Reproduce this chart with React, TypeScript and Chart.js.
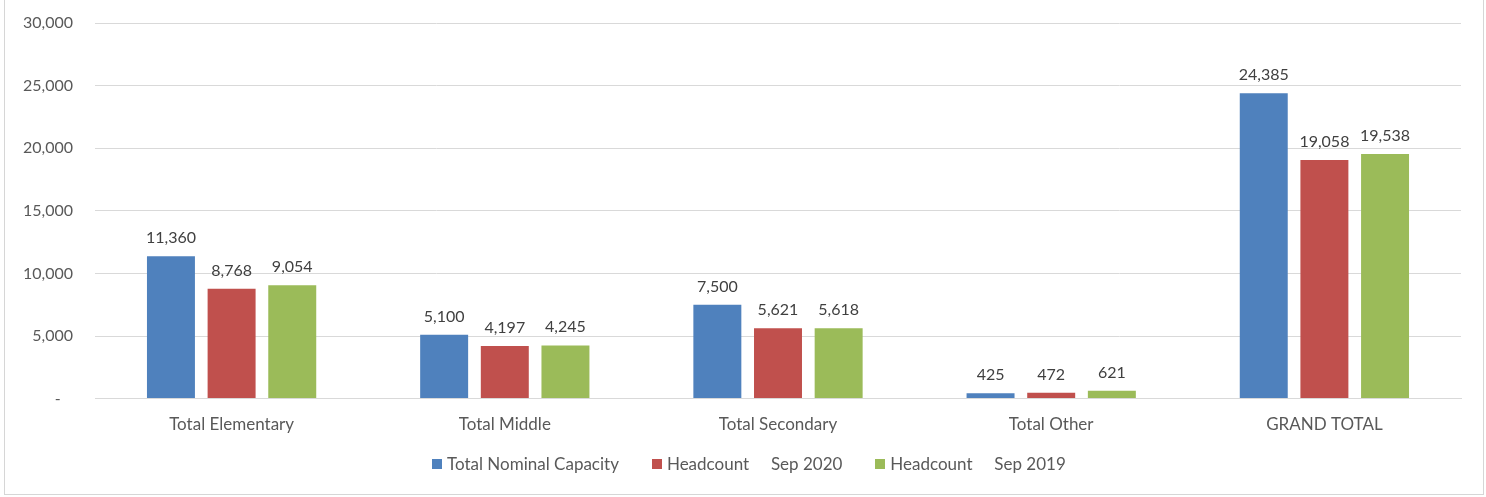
import React, { useEffect, useRef } from "react";
import { Chart, registerables } from "chart.js";

Chart.register(...registerables);

const categories = ["Total Elementary", "Total Middle", "Total Secondary", "Total Other", "GRAND TOTAL"];
const seriesNames = ["Total Nominal Capacity", "Headcount     Sep 2020", "Headcount     Sep 2019"];
const nominalCapacity = [11360, 5100, 7500, 425, 24385];
const headcount2020 = [8768, 4197, 5621, 472, 19058];
const headcount2019 = [9054, 4245, 5618, 621, 19538];
const seriesColors = ["#4F81BD", "#C0504D", "#9BBB59"];
const yTicks = [0, 5000, 10000, 15000, 20000, 25000, 30000];

const FONT = "Lato, 'Open Sans', sans-serif";

const fmt = (v: number) => (v === 0 ? "-   " : v.toLocaleString("en-US"));

const dataLabels = {
  id: "dataLabels",
  afterDatasetsDraw(chart: any) {
    const ctx = chart.ctx;
    ctx.save();
    ctx.font = `16px ${FONT}`;
    ctx.fillStyle = "#404040";
    ctx.textAlign = "center";
    ctx.textBaseline = "alphabetic";
    chart.data.datasets.forEach((ds: any, di: number) => {
      const meta = chart.getDatasetMeta(di);
      meta.data.forEach((el: any, i: number) => {
        const v = ds.data[i] as number;
        ctx.fillText(v.toLocaleString("en-US"), el.x, el.y - 13);
      });
    });
    ctx.restore();
  },
};

export default function App() {
  const ref = useRef<HTMLCanvasElement | null>(null);

  useEffect(() => {
    if (!ref.current) return;
    const data = [nominalCapacity, headcount2020, headcount2019];
    const chart = new Chart(ref.current, {
      type: "bar",
      data: {
        labels: categories,
        datasets: data.map((d, i) => ({
          label: seriesNames[i],
          data: d,
          backgroundColor: seriesColors[i],
          borderWidth: 0,
          categoryPercentage: 0.666,
          barPercentage: 0.791,
        })),
      },
      options: {
        animation: false,
        responsive: false,
        devicePixelRatio: 1,
        layout: { padding: { top: 23, right: 22, left: 0, bottom: 42 } },
        plugins: {
          legend: { display: false },
          tooltip: { enabled: false },
        },
        scales: {
          x: {
            grid: { display: false, drawTicks: false },
            border: { display: true, color: "#d9d9d9", width: 1 },
            ticks: {
              padding: 16,
              color: "#595959",
              font: { family: FONT, size: 17 },
              maxRotation: 0,
              autoSkip: false,
            },
          },
          y: {
            min: 0,
            max: 30000,
            afterFit: (scale: any) => {
              scale.width = 90;
              scale.paddingTop = 0;
              scale.paddingBottom = 0;
            },
            afterBuildTicks: (scale: any) => {
              scale.ticks = yTicks.map((v) => ({ value: v }));
            },
            grid: { color: "#d9d9d9", drawTicks: false, lineWidth: 1 },
            border: { display: false },
            ticks: {
              padding: 22,
              color: "#595959",
              font: { family: FONT, size: 16 },
              callback: (v: any) => fmt(Number(v)),
            },
          },
        },
      },
      plugins: [dataLabels],
    });
    return () => chart.destroy();
  }, []);

  return (
    <div>
      <div
        style={{
          position: "absolute",
          left: 4,
          top: -2,
          width: 1480,
          height: 497,
          border: "1px solid #d6d6d6",
          boxSizing: "border-box",
          background: "#fff",
        }}
      />
      <canvas
        ref={ref}
        width={1478}
        height={493}
        style={{ position: "absolute", left: 5, top: 0, width: 1478, height: 493 }}
      />
      <div
        style={{
          position: "absolute",
          left: 432,
          top: 454,
          whiteSpace: "pre",
          fontFamily: FONT,
          fontSize: 17,
          color: "#595959",
          lineHeight: "20px",
          display: "flex",
          alignItems: "center",
        }}
      >
        {seriesNames.map((n, i) => (
          <span key={n} style={{ display: "inline-flex", alignItems: "center", marginRight: 33 }}>
            <span
              style={{
                display: "inline-block",
                width: 10,
                height: 10,
                background: seriesColors[i],
                marginRight: 5,
              }}
            />
            <span>{n}</span>
          </span>
        ))}
      </div>
    </div>
  );
}
